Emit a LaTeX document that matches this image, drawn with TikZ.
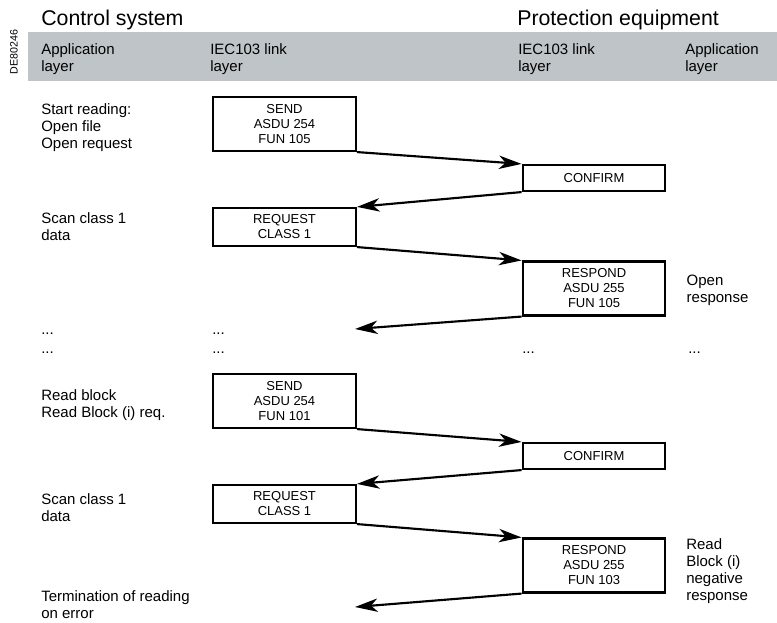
\documentclass[tikz,border=0pt]{standalone}
\usepackage{fontspec}
\setmainfont{Liberation Sans}
\usetikzlibrary{positioning, arrows.meta}
\definecolor{bargray}{RGB}{190,196,199}
\tikzstyle{msg} = [rectangle, draw, line width=1.6pt, minimum width=107pt, inner sep=0pt, align=center, font=\fontsize{9.75}{11.25}\selectfont]
\tikzstyle{msgtall} = [msg, minimum height=40.5pt]
\tikzstyle{msgmid} = [msg, minimum height=28.5pt]
\tikzstyle{msgflat} = [msg, minimum height=19.5pt]
\tikzstyle{txt} = [anchor=base west, inner sep=0pt, align=left, font=\fontsize{11.25}{12.75}\selectfont]
\tikzstyle{title} = [anchor=base west, inner sep=0pt, font=\fontsize{16}{19}\selectfont]
\tikzstyle{arrow} = [line width=1.6pt, -{Stealth[length=17pt, width=10pt, inset=5pt]}]

\begin{document}
\begin{tikzpicture}[x=0.75pt, y=-0.75pt]
  \useasboundingbox (0,0) rectangle (777,623);

  % Header bar and titles
  \fill[bargray] (28,32) rectangle (777,81);
  \node (tag) [rotate=90, inner sep=0pt, font=\fontsize{8}{9}\selectfont] at (14,52) {DE80246};
  \node (ctrl_title) [title] at (41,26) {Control system};
  \node (prot_title) [title] at (517,26) {Protection equipment};
  \node (ctrl_app) [txt] at (41,72) {Application\\layer};
  \node (ctrl_link) [txt] at (210,72) {IEC103 link\\layer};
  \node (prot_link) [txt] at (518,72) {IEC103 link\\layer};
  \node (prot_app) [txt] at (685,72) {Application\\layer};

  % Open file
  \node (send_open) [msgtall] at (284.5,124) {SEND\\ASDU 254\\FUN 105};
  \node (conf_open) [msgflat] at (594,178) {CONFIRM};
  \node (req_open) [msgmid] at (284.5,227) {REQUEST\\CLASS 1};
  \node (resp_open) [msgtall] at (594,288.5) {RESPOND\\ASDU 255\\FUN 105};
  \coordinate (end_open) at (355,329);

  \node (lbl_start) [txt] at (41,148.5) {Start reading:\\Open file\\Open request};
  \node (lbl_scan1) [txt] at (41,241) {Scan class 1\\data};
  \node (lbl_openresp) [txt, right=15pt of resp_open.north east, anchor=north west, yshift=-10.75pt] {Open\\response};

  % Gap
  \node (dots_a1) [txt] at (41,334.5) {...};
  \node (dots_a2) [txt] at (41,353) {...};
  \node (dots_b1) [txt] at (212,334.5) {...};
  \node (dots_b2) [txt] at (212,353) {...};
  \node (dots_c2) [txt] at (522,353) {...};
  \node (dots_d2) [txt] at (688,353) {...};

  % Read block
  \node (send_read) [msgtall] at (284.5,401) {SEND\\ASDU 254\\FUN 101};
  \node (conf_read) [msgflat] at (594,456) {CONFIRM};
  \node (req_read) [msgmid] at (284.5,504) {REQUEST\\CLASS 1};
  \node (resp_read) [msgtall] at (594,565.5) {RESPOND\\ASDU 255\\FUN 103};
  \coordinate (end_read) at (355,607);

  \node (lbl_read) [txt] at (41,417) {Read block\\Read Block (i) req.};
  \node (lbl_scan2) [txt] at (41,521) {Scan class 1\\data};
  \node (lbl_term) [txt] at (41,618.5) {Termination of reading\\on error};
  \node (lbl_readresp) [txt] at (686,600) {Read\\Block (i)\\negative\\response};

  % Arrows
  \draw[arrow] (send_open.south east) -- (conf_open.north west);
  \draw[arrow] (conf_open.south west) -- (req_open.north east);
  \draw[arrow] (req_open.south east) -- (resp_open.north west);
  \draw[arrow] (resp_open.south west) -- (end_open);
  \draw[arrow] (send_read.south east) -- (conf_read.north west);
  \draw[arrow] (conf_read.south west) -- (req_read.north east);
  \draw[arrow] (req_read.south east) -- (resp_read.north west);
  \draw[arrow] (resp_read.south west) -- (end_read);

\end{tikzpicture}
\end{document}
